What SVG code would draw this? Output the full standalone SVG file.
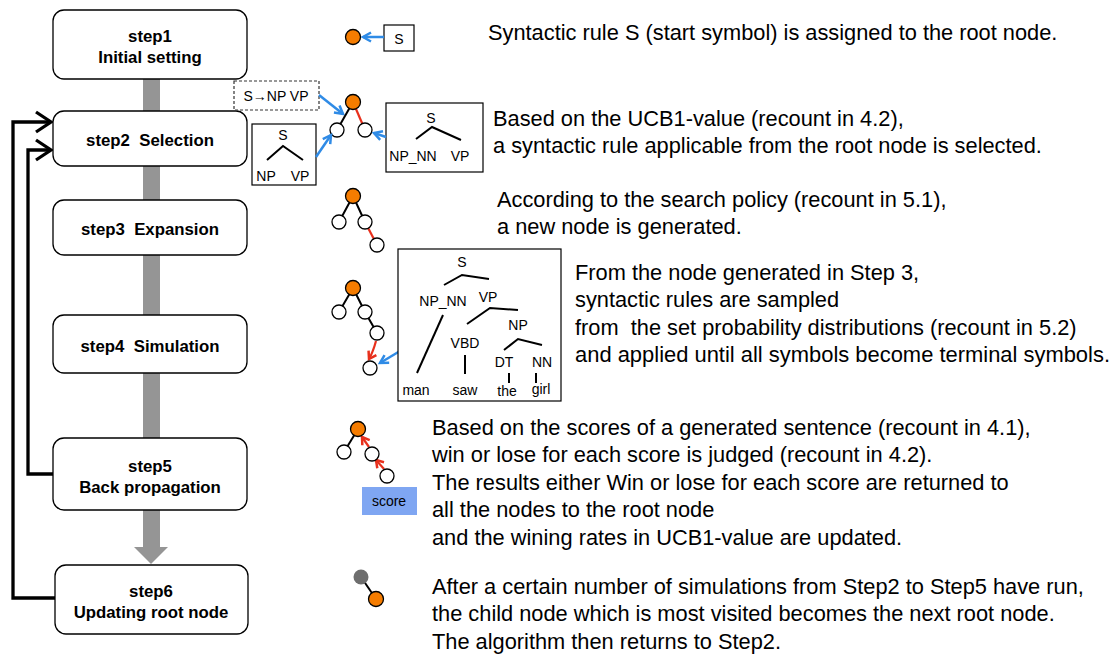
<svg xmlns="http://www.w3.org/2000/svg" width="1114" height="657" viewBox="0 0 1114 657">
<style>
.box{fill:#fff;stroke:#000;stroke-width:1.3}
.bt{font-family:"Liberation Sans",Arial,sans-serif;font-weight:bold;font-size:16.8px;text-anchor:middle;fill:#000}
.tx{font-family:"Liberation Sans",Arial,sans-serif;font-size:21.8px;fill:#000}
.tl{font-family:"Liberation Sans",Arial,sans-serif;font-size:14px;fill:#000;text-anchor:middle}
.n{fill:#fff;stroke:#000;stroke-width:1.3}
.o{fill:#F57C00;stroke:#000;stroke-width:1.3}
.e{stroke:#000;stroke-width:2;fill:none}
.r{stroke:#E8301C;stroke-width:2.2;fill:none}
.b{stroke:#2F8BE6;stroke-width:2.5;fill:none}
.fb{stroke:#000;stroke-width:3.3;fill:none}
.tb{fill:#fff;stroke:#000;stroke-width:1.2}
</style>
<defs>
<marker id="blk" markerUnits="userSpaceOnUse" markerWidth="20" markerHeight="24" refX="16" refY="11" orient="auto" overflow="visible">
<path d="M1,1 L16,11 L1,21" fill="none" stroke="#000" stroke-width="3.3"/>
</marker>
<marker id="blu" markerUnits="userSpaceOnUse" markerWidth="12" markerHeight="12" refX="9" refY="5" orient="auto" overflow="visible">
<path d="M1,0.5 L9,5 L1,9.5" fill="none" stroke="#2F8BE6" stroke-width="2.5"/>
</marker>
<marker id="red" markerUnits="userSpaceOnUse" markerWidth="12" markerHeight="12" refX="8" refY="5" orient="auto" overflow="visible">
<path d="M1,0.5 L8,5 L1,9.5" fill="none" stroke="#E8301C" stroke-width="2.5"/>
</marker>
</defs>

<g id="connectors">
<rect x="143" y="79" width="17" height="470" fill="#959595"/>
<polygon points="134,547 168,547 151,564" fill="#959595"/>
<path class="fb" d="M55,598 H13 V122 H51" marker-end="url(#blk)"/>
<path class="fb" d="M53,474 H28 V150 H51" marker-end="url(#blk)"/>
</g>

<g id="step1"><rect class="box" x="53" y="10" width="194" height="69" rx="11"/><text class="bt" x="150" y="42">step1</text><text class="bt" x="150" y="63">Initial setting</text></g>
<g id="step2"><rect class="box" x="53" y="111" width="194" height="55" rx="11"/><text class="bt" x="150" y="146" xml:space="preserve">step2  Selection</text></g>
<g id="step3"><rect class="box" x="53" y="200" width="194" height="55" rx="11"/><text class="bt" x="150" y="235" xml:space="preserve">step3  Expansion</text></g>
<g id="step4"><rect class="box" x="53" y="315" width="194" height="58" rx="11"/><text class="bt" x="150" y="352" xml:space="preserve">step4  Simulation</text></g>
<g id="step5"><rect class="box" x="53" y="438" width="194" height="72" rx="11"/><text class="bt" x="150" y="472">step5</text><text class="bt" x="150" y="493">Back propagation</text></g>
<g id="step6"><rect class="box" x="55" y="565" width="193" height="69" rx="11"/><text class="bt" x="151" y="597">step6</text><text class="bt" x="151" y="618">Updating root node</text></g>

<g id="icon1">
<rect class="tb" x="384" y="25" width="30" height="26"/>
<text class="tl" x="399" y="44" font-size="15">S</text>
<path class="b" d="M384,37 H363" marker-end="url(#blu)"/>
<circle class="o" cx="353" cy="37" r="7.5"/>
</g>

<g id="icon2">
<rect x="234" y="81" width="85" height="29" fill="#fff" stroke="#333" stroke-width="1.2" stroke-dasharray="3,2"/>
<text class="tl" x="276" y="101" font-size="14">S→NP VP</text>
<path class="b" d="M319,95 L343,114" marker-end="url(#blu)"/>
<path class="e" d="M353,102 L337,130"/>
<path class="r" d="M353,102 L365,130"/>
<circle class="o" cx="353" cy="102" r="7.5"/>
<circle class="n" cx="337" cy="130" r="7"/>
<circle class="n" cx="365" cy="130" r="7"/>
<rect class="tb" x="252" y="124" width="64" height="61"/>
<text class="tl" x="283" y="140" font-size="15.5">S</text>
<path class="e" d="M267,160 L283,146 L303,160"/>
<text class="tl" x="266" y="181" font-size="15.5">NP</text>
<text class="tl" x="300" y="181" font-size="15.5">VP</text>
<path class="b" d="M316,157 L331,135" marker-end="url(#blu)"/>
<rect class="tb" x="386" y="103" width="97" height="69"/>
<text class="tl" x="431" y="123" font-size="15.5">S</text>
<path class="e" d="M416,139 L432,127 L461,140"/>
<text class="tl" x="413" y="161" font-size="15.5">NP_NN</text>
<text class="tl" x="460" y="161" font-size="15.5">VP</text>
<path class="b" d="M386,137 L374,133" marker-end="url(#blu)"/>
</g>

<g id="icon3">
<path class="e" d="M353,196 L339,222 M353,196 L365,222"/>
<path class="r" d="M365,222 L377,245"/>
<circle class="o" cx="353" cy="196" r="7.5"/>
<circle class="n" cx="339" cy="222" r="7"/>
<circle class="n" cx="365" cy="222" r="7"/>
<circle class="n" cx="377" cy="245" r="7"/>
</g>

<g id="icon4">
<path class="e" d="M353,288 L339,312 M353,288 L365,312 M365,312 L377,333"/>
<path class="r" d="M376,341 Q373,352 369,359" marker-end="url(#red)"/>
<circle class="o" cx="353" cy="288" r="7.5"/>
<circle class="n" cx="339" cy="312" r="7"/>
<circle class="n" cx="365" cy="312" r="7"/>
<circle class="n" cx="377" cy="333" r="7"/>
<circle class="n" cx="370" cy="368" r="7"/>
<path class="b" d="M400,351 L380,363" marker-end="url(#blu)"/>
<rect class="tb" x="398" y="249" width="163" height="152"/>
<text class="tl" x="462" y="267">S</text>
<path class="e" d="M444,285 L462,275 L489,279"/>
<text class="tl" x="443" y="306">NP_NN</text>
<text class="tl" x="488" y="302">VP</text>
<path class="e" d="M467,324 L490,308 L518,310"/>
<text class="tl" x="518" y="330">NP</text>
<text class="tl" x="465" y="348">VBD</text>
<path class="e" d="M504,350 L518,339 L542,345"/>
<text class="tl" x="504" y="367">DT</text>
<text class="tl" x="542" y="367">NN</text>
<path class="e" d="M443,315 L417,373"/>
<path class="e" d="M465,355 V374"/>
<path class="e" d="M509,373 V383 M536,373 V383"/>
<text class="tl" x="416" y="395">man</text>
<text class="tl" x="465" y="395">saw</text>
<text class="tl" x="507" y="396">the</text>
<text class="tl" x="541" y="394">girl</text>
</g>

<g id="icon5">
<path class="e" d="M358,429 L344,452"/>
<path class="r" d="M369,447 L362,437" marker-end="url(#red)"/>
<path class="r" d="M384,469 L376,460" marker-end="url(#red)"/>
<circle class="o" cx="358" cy="429" r="7.5"/>
<circle class="n" cx="344" cy="452" r="7"/>
<circle class="n" cx="372" cy="454" r="7"/>
<circle class="n" cx="387" cy="476" r="7"/>
<rect x="362" y="487" width="55" height="28" fill="#7FA6F2"/>
<text class="tl" x="389" y="506" font-size="13.5">score</text>
</g>

<g id="icon6">
<path class="e" d="M361,577 L376,599"/>
<circle cx="361" cy="577" r="7.5" fill="#6e6e6e"/>
<circle class="o" cx="376" cy="599" r="7.5"/>
</g>

<g id="texts">
<text class="tx" x="488" y="40">Syntactic rule S (start symbol) is assigned to the root node.</text>
<text class="tx" x="493" y="126">Based on the UCB1-value (recount in 4.2),</text>
<text class="tx" x="493" y="153">a syntactic rule applicable from the root node is selected.</text>
<text class="tx" x="497" y="207">According to the search policy (recount in 5.1),</text>
<text class="tx" x="497" y="234">a new node is generated.</text>
<text class="tx" x="575" y="280">From the node generated in Step 3,</text>
<text class="tx" x="575" y="307">syntactic rules are sampled</text>
<text class="tx" x="575" y="335" xml:space="preserve">from  the set probability distributions (recount in 5.2)</text>
<text class="tx" x="575" y="362" textLength="535" lengthAdjust="spacingAndGlyphs">and applied until all symbols become terminal symbols.</text>
<text class="tx" x="432" y="435">Based on the scores of a generated sentence (recount in 4.1),</text>
<text class="tx" x="432" y="462">win or lose for each score is judged (recount in 4.2).</text>
<text class="tx" x="432" y="490">The results either Win or lose for each score are returned to</text>
<text class="tx" x="432" y="517">all the nodes to the root node</text>
<text class="tx" x="432" y="545">and the wining rates in UCB1-value are updated.</text>
<text class="tx" x="432" y="594">After a certain number of simulations from Step2 to Step5 have run,</text>
<text class="tx" x="432" y="621">the child node which is most visited becomes the next root node.</text>
<text class="tx" x="432" y="649">The algorithm then returns to Step2.</text>
</g>
</svg>
